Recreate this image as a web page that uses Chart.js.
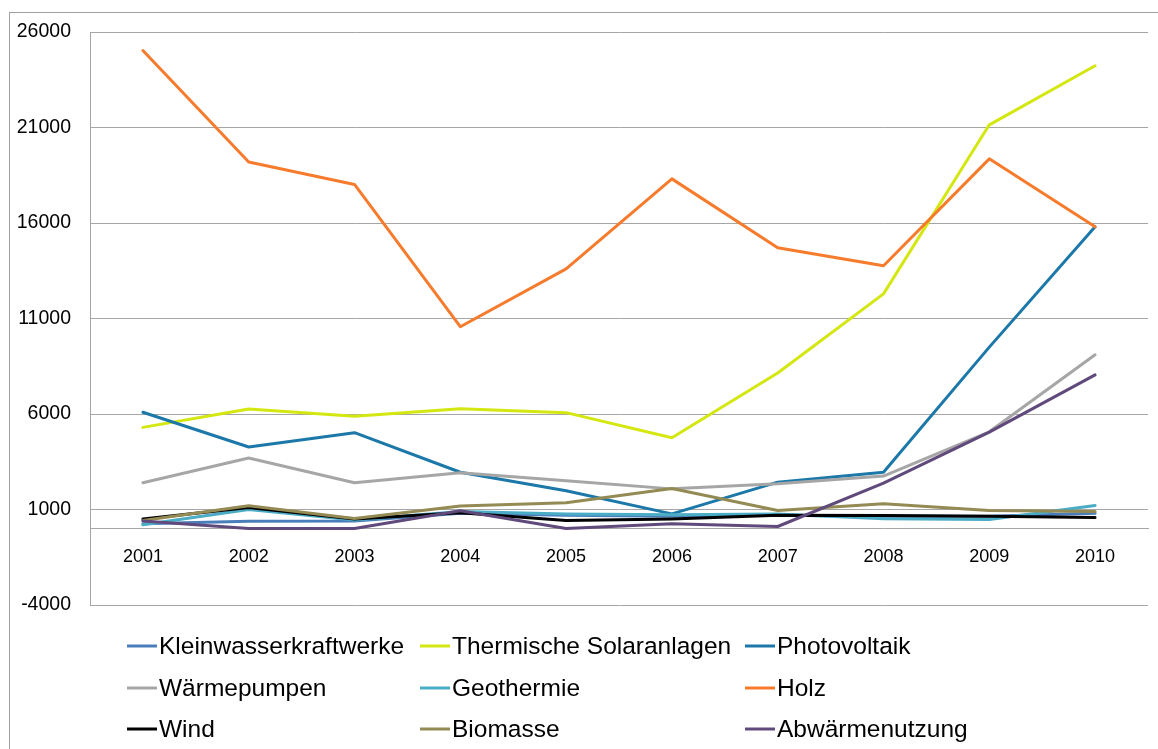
<!DOCTYPE html>
<html>
<head>
<meta charset="utf-8">
<script src="https://cdn.jsdelivr.net/npm/chart.js@4/dist/chart.umd.min.js"></script>
<style>
  html, body { margin: 0; padding: 0; background: #fff; }
  #wrap { width: 1158px; height: 749px; position: relative; }
</style>
</head>
<body>
<div id="wrap"><canvas id="chart" width="1158" height="749"></canvas></div>
<script>
// Jahre
const years = ['2001', '2002', '2003', '2004', '2005', '2006', '2007', '2008', '2009', '2010'];

// Reihen
const kleinwasser = [250, 390, 400, 800, 700, 650, 700, 650, 650, 800];
const thermischeSolar = [5300, 6260, 5880, 6270, 6070, 4760, 8150, 12290, 21140, 24230];
const photovoltaik = [6090, 4270, 5020, 2950, 1980, 770, 2430, 2950, 9500, 15800];
const waermepumpen = [2400, 3700, 2400, 2920, 2500, 2080, 2350, 2750, 5070, 9100];
const geothermie = [200, 1000, 450, 900, 770, 720, 770, 510, 480, 1210];
const holz = [25030, 19190, 18020, 10570, 13600, 18310, 14700, 13760, 19360, 15800];
const wind = [500, 1100, 500, 830, 420, 500, 700, 690, 650, 580];
const biomasse = [420, 1200, 530, 1180, 1350, 2100, 950, 1300, 950, 900];
const abwaerme = [400, 0, 0, 930, 0, 250, 110, 2380, 5050, 8050];

const seriesNames = ['Kleinwasserkraftwerke', 'Thermische Solaranlagen', 'Photovoltaik',
  'Wärmepumpen', 'Geothermie', 'Holz', 'Wind', 'Biomasse', 'Abwärmenutzung'];
const seriesValues = [kleinwasser, thermischeSolar, photovoltaik, waermepumpen,
  geothermie, holz, wind, biomasse, abwaerme];
const seriesColors = ['#4a7ebb', '#d4e710', '#1b78a8', '#a6a6a6', '#4bacc6',
  '#f67b2c', '#000000', '#948a54', '#604a7b'];

// y-Achse
const yMin = -4000;
const yMax = 26000;
const yStep = 5000;

const gridColor = '#a6a6a6';
const fontFamily = '"Liberation Sans", Arial, sans-serif';

// Rahmen um das Diagramm (nur oben und links sichtbar)
const frame = {
  id: 'frame',
  beforeDraw(chart) {
    const ctx = chart.ctx;
    ctx.save();
    ctx.strokeStyle = '#a0a0a0';
    ctx.lineWidth = 1;
    ctx.strokeRect(9.5, 12.5, 1400, 1000);
    ctx.restore();
  }
};

// Legende als Raster mit drei Spalten
const gridLegend = {
  id: 'gridLegend',
  afterDraw(chart) {
    const ctx = chart.ctx;
    const colX = [127, 420, 745];
    const rowY = [646, 688, 729];
    ctx.save();
    ctx.font = '24.5px ' + fontFamily;
    ctx.textBaseline = 'middle';
    chart.data.datasets.forEach((ds, i) => {
      const x = colX[i % 3];
      const y = rowY[Math.floor(i / 3)];
      ctx.strokeStyle = ds.borderColor;
      ctx.lineWidth = 3;
      ctx.beginPath();
      ctx.moveTo(x, y);
      ctx.lineTo(x + 30, y);
      ctx.stroke();
      ctx.fillStyle = '#000';
      ctx.fillText(ds.label, x + 32, y + 1);
    });
    ctx.restore();
  }
};

const ctx = document.getElementById('chart').getContext('2d');
new Chart(ctx, {
  type: 'line',
  data: {
    labels: years,
    datasets: seriesNames.map((name, i) => ({
      label: name,
      data: seriesValues[i],
      borderColor: seriesColors[i],
      backgroundColor: seriesColors[i],
      borderWidth: 3,
      pointRadius: 0,
      pointHoverRadius: 0,
      tension: 0,
      fill: false,
      borderJoinStyle: 'round',
      borderCapStyle: 'round',
      order: seriesNames.length - i
    }))
  },
  options: {
    responsive: false,
    animation: false,
    layout: { padding: { left: 0, top: 32, right: 10, bottom: 144 } },
    plugins: {
      legend: { display: false },
      tooltip: { enabled: false }
    },
    scales: {
      x: {
        type: 'category',
        offset: true,
        position: { y: 0 },
        grid: { display: false, drawTicks: false },
        border: { display: true, color: gridColor, width: 1 },
        ticks: {
          color: '#000',
          padding: 18,
          maxRotation: 0,
          autoSkip: false,
          font: { family: fontFamily, size: 18 }
        }
      },
      y: {
        min: yMin,
        max: yMax,
        grid: { color: gridColor, drawTicks: false },
        border: { display: true, color: gridColor, width: 1 },
        afterFit(scale) { scale.width = 90; },
        ticks: {
          stepSize: yStep,
          color: '#000',
          padding: 19,
          font: { family: fontFamily, size: 19.5 },
          callback: (v) => String(v)
        }
      }
    }
  },
  plugins: [frame, gridLegend]
});
</script>
</body>
</html>
